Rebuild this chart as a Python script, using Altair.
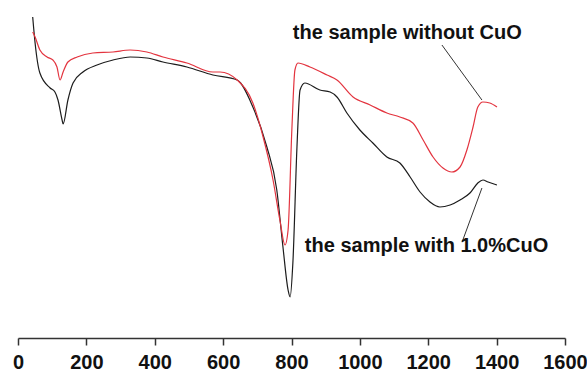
import altair as alt
import pandas as pd

# ---- data ----
black_x = [43, 50, 64, 94, 108, 117, 129, 132, 146, 161, 190, 231, 278, 328, 377, 424, 494, 570,
           641, 687, 728, 757, 775, 790, 796, 804, 816, 825, 839, 883, 913, 933, 962, 1000, 1038,
           1079, 1117, 1147, 1176, 1205, 1234, 1264, 1293, 1322, 1345, 1360, 1375, 1401]
black_y = [321, 295, 265, 250, 246, 238, 218, 214, 238, 255, 266, 273, 278, 281, 280, 276, 271, 263,
           258, 231, 191, 148, 91, 48, 41, 75, 191, 248, 255, 248, 246, 241, 225, 208, 195,
           181, 175, 161, 146, 136, 131, 133, 138, 145, 155, 158, 156, 153]

red_x = [43, 50, 64, 85, 102, 114, 123, 132, 146, 173, 219, 278, 328, 377, 424, 494, 570, 591,
         641, 687, 717, 746, 766, 781, 790, 801, 810, 819, 854, 904, 933, 980, 1030, 1079, 1117,
         1155, 1185, 1214, 1243, 1269, 1293, 1313, 1331, 1345, 1360, 1380, 1401]
red_y = [306, 301, 288, 281, 278, 271, 258, 266, 276, 281, 285, 286, 288, 286, 281, 275, 266, 266,
         258, 235, 201, 158, 118, 93, 108, 208, 268, 275, 271, 263, 258, 241, 233, 225, 221,
         215, 198, 181, 170, 166, 171, 188, 211, 231, 236, 235, 231]

series_names = ["the sample with 1.0%CuO", "the sample without CuO"]
series_colors = ["#1c1c1c", "#e3343f"]

tick_values = list(range(0, 1601, 100))

label_text = ["the sample without CuO", "the sample with 1.0%CuO"]
label_x = [804, 839]
label_y = [299, 86]
leader_x = [1240, 1357]
leader_y = [293, 150]
leader_x2 = [1357, 1299]
leader_y2 = [238, 96]

# ---- tables ----
curves = pd.concat([
    pd.DataFrame({"temp": black_x, "signal": black_y, "series": series_names[0]}),
    pd.DataFrame({"temp": red_x, "signal": red_y, "series": series_names[1]}),
], ignore_index=True)

labels = pd.DataFrame({"text": label_text, "temp": label_x, "signal": label_y})
leaders = pd.DataFrame({"temp": leader_x, "signal": leader_y, "temp2": leader_x2, "signal2": leader_y2})

xscale = alt.Scale(domain=[0, 1600], nice=False, zero=False)
yscale = alt.Scale(domain=[0, 338], nice=False, zero=False)

xaxis = alt.Axis(
    values=tick_values,
    format="d",
    labelExpr="datum.value % 200 === 0 ? datum.label : ''",
    title=None,
    grid=False,
    domainColor="#333333",
    domainWidth=1.5,
    tickColor="#333333",
    tickWidth=1.5,
    tickSize={"condition": {"test": "datum.value % 200 === 0", "value": 7}, "value": 4},
    labelFontSize=20,
    labelFont="Liberation Sans",
    labelFontWeight="bold",
    labelColor="#111111",
    labelPadding=7,
    labelFlush=False,
    labelOverlap=False,
)

lines = alt.Chart(curves).mark_line(strokeWidth=1.2, interpolate="monotone").encode(
    x=alt.X("temp:Q", scale=xscale, axis=xaxis),
    y=alt.Y("signal:Q", scale=yscale, axis=None),
    color=alt.Color("series:N", scale=alt.Scale(domain=series_names, range=series_colors), legend=None),
    order="temp:Q",
)

rules = alt.Chart(leaders).mark_rule(color="#333333", strokeWidth=1).encode(
    x="temp:Q", y="signal:Q", x2="temp2:Q", y2="signal2:Q"
)

texts = alt.Chart(labels).mark_text(
    align="left", baseline="alphabetic", fontSize=20, fontWeight="bold",
    font="Liberation Sans", color="#111111"
).encode(x="temp:Q", y="signal:Q", text="text:N")

chart = alt.layer(lines, rules, texts).properties(
    width=547, height=338,
    autosize=alt.AutoSizeParams(type="none"),
    padding={"left": 18, "right": 22, "top": 0, "bottom": 34},
    background="white",
).configure_view(strokeWidth=0)

chart.save("out.html", embed_options={"renderer": "svg", "actions": False})
